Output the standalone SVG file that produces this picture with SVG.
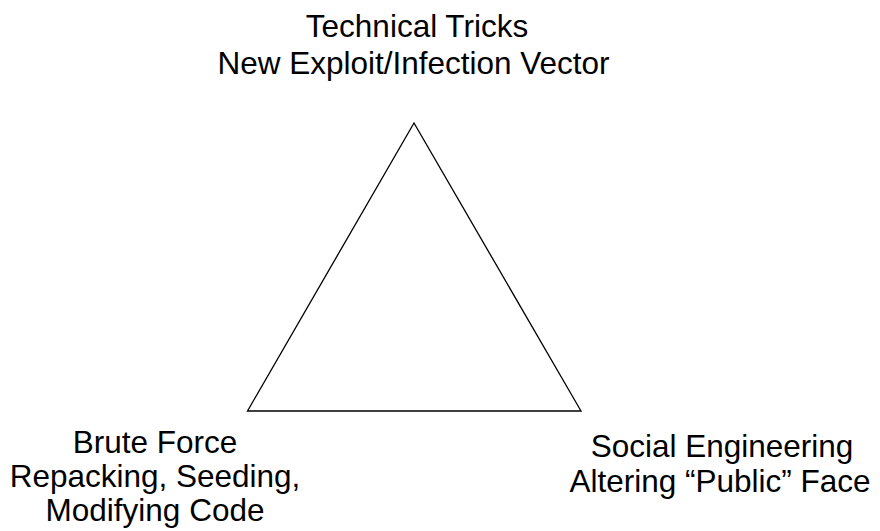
<svg xmlns="http://www.w3.org/2000/svg" width="880" height="531" viewBox="0 0 880 531">
  <style>
    .lbl { font-family: "Liberation Sans", Arial, sans-serif; font-size: 31.5px; fill: #000; text-anchor: middle; }
    .edge { fill: none; stroke: #000; stroke-width: 1.3; stroke-linejoin: miter; }
  </style>
  <rect width="880" height="531" fill="#fff"/>
  <g id="connectors">
    <polygon class="edge" points="414,123 247.5,411 581,411"/>
  </g>
  <g id="node-top">
    <text class="lbl" x="417" y="37">Technical Tricks</text>
    <text class="lbl" x="413.5" y="74">New Exploit/Infection Vector</text>
  </g>
  <g id="node-left">
    <text class="lbl" x="155" y="453">Brute Force</text>
    <text class="lbl" x="155" y="487">Repacking, Seeding,</text>
    <text class="lbl" x="155" y="521">Modifying Code</text>
  </g>
  <g id="node-right">
    <text class="lbl" x="722" y="457">Social Engineering</text>
    <text class="lbl" x="720" y="492">Altering “Public” Face</text>
  </g>
</svg>
